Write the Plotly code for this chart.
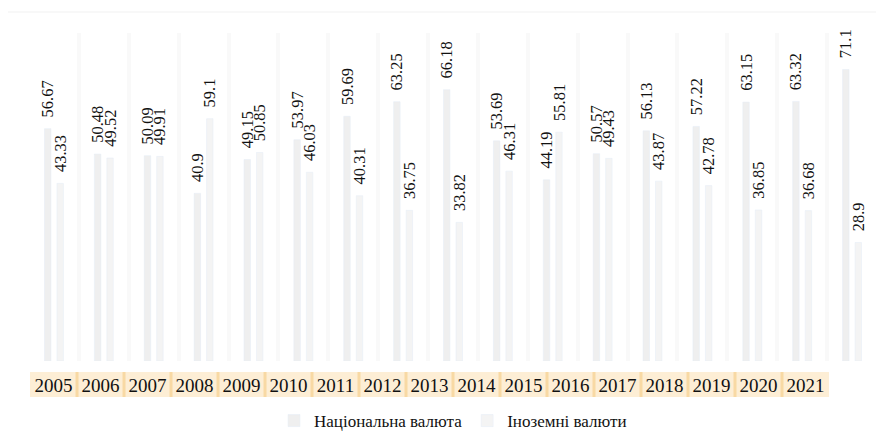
import plotly.graph_objects as go

years = ["2005", "2006", "2007", "2008", "2009", "2010", "2011", "2012", "2013",
         "2014", "2015", "2016", "2017", "2018", "2019", "2020", "2021"]
national = [56.67, 50.48, 50.09, 40.9, 49.15, 53.97, 59.69, 63.25, 66.18,
            53.69, 44.19, 50.57, 56.13, 57.22, 63.15, 63.32, 71.1]
foreign = [43.33, 49.52, 49.91, 59.1, 50.85, 46.03, 40.31, 36.75, 33.82,
           46.31, 55.81, 49.43, 43.87, 42.78, 36.85, 36.68, 28.9]
series_names = ["Національна валюта", "Іноземні валюти"]

FONT = "Liberation Serif"

fig = go.Figure()
for name, vals, col in [(series_names[0], national, "#efefef"),
                        (series_names[1], foreign, "#f4f4f4")]:
    fig.add_trace(go.Bar(
        x=years, y=vals, name=name, marker_color=col,
        text=[f"{v:g}" for v in vals], texttemplate="\u00a0\u00a0%{text}",
        textposition="outside", textangle=-90, constraintext="none",
        cliponaxis=False,
        textfont=dict(family=FONT, size=16.5, color="#111"),
    ))

# helper trace that defines the narrower label axis (tick labels strip)
fig.add_trace(go.Scatter(x=years, y=[0] * len(years), xaxis="x2", yaxis="y",
                         showlegend=False, hoverinfo="skip", mode="markers",
                         marker=dict(opacity=0, size=1)))

shapes = [dict(type="rect", xref="x2", yref="paper", x0=-0.5, x1=len(years) - 0.5,
               y0=-0.1098, y1=-0.0335, fillcolor="#fdeed5", line_width=0, layer="below")]
for i in range(len(years) - 1):
    shapes.append(dict(type="line", xref="x2", yref="paper", x0=i + 0.5, x1=i + 0.5,
                       y0=-0.1098, y1=-0.0335, line=dict(color="#f8d9a4", width=3), layer="below"))
# chart frame (top edge)
shapes.append(dict(type="rect", xref="paper", yref="paper", x0=-0.04, x1=1.03,
                   y0=-0.5, y1=1.064, line=dict(color="#f1f1f1", width=1),
                   fillcolor="rgba(0,0,0,0)", layer="below"))

fig.update_layout(
    width=876, height=428,
    margin=dict(l=21, r=7, t=25, b=75, autoexpand=False),
    paper_bgcolor="white", plot_bgcolor="rgba(0,0,0,0)",
    barmode="group", bargap=0.5, bargroupgap=0.48,
    font=dict(family=FONT, size=16, color="#111"),
    xaxis=dict(type="category", showticklabels=False, ticks="", showline=False,
               showgrid=True, tickson="boundaries", gridcolor="#f9f9f9", gridwidth=4,
               zeroline=False, automargin=False),
    xaxis2=dict(type="category", categoryorder="array", categoryarray=years,
                range=[-0.5, len(years) - 0.5], domain=[0.0012, 0.9434],
                anchor="y", side="bottom", showticklabels=True, ticks="",
                ticklabelstandoff=11, tickfont=dict(family=FONT, size=19, color="#111"),
                showline=False, showgrid=False, zeroline=False, automargin=False),
    yaxis=dict(range=[0, 80], visible=False, showgrid=False, zeroline=False),
    legend=dict(orientation="h", x=0.5, xanchor="center", y=-0.183, yanchor="middle",
                font=dict(family=FONT, size=17, color="#111"), itemwidth=30),
    shapes=shapes,
    showlegend=True,
)

fig.write_html("out.html")
